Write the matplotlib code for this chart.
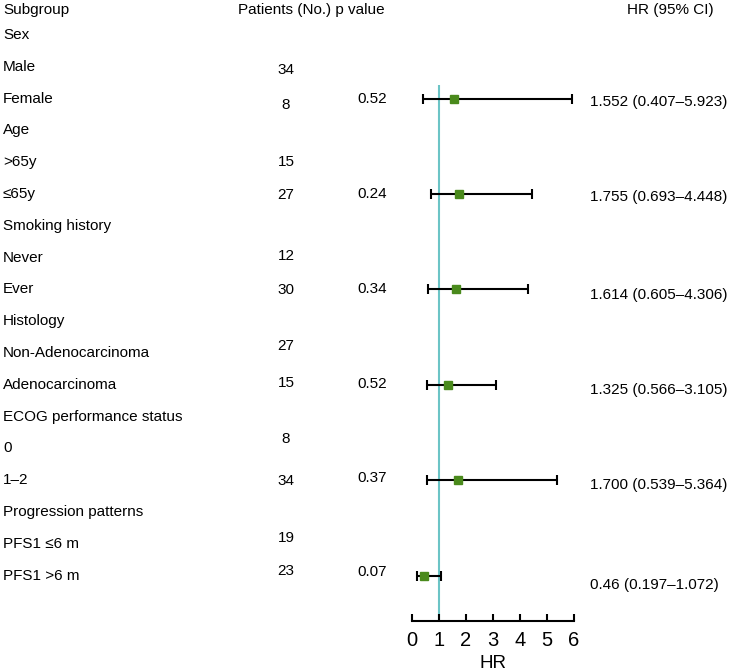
import matplotlib
matplotlib.use("Agg")
import matplotlib.pyplot as plt

plt.rcParams["font.family"] = ["Liberation Sans", "DejaVu Sans"]

# rows of the table, top to bottom
labels = ["Sex", "Male", "Female", "Age", ">65y", "≤65y", "Smoking history",
          "Never", "Ever", "Histology", "Non-Adenocarcinoma", "Adenocarcinoma",
          "ECOG performance status", "0", "1–2", "Progression patterns",
          "PFS1 ≤6 m", "PFS1 >6 m"]
patients = [None, 34, 8, None, 15, 27, None, 12, 30, None, 27, 15, None, 8, 34, None, 19, 23]
pat_shift = [0, 3, 6, 0, 0, 1, 0, -2, 1, 0, -7, -2, 0, -9, 1, 0, -6, -5]

# one estimate per subgroup pair
hr_rows = [2, 5, 8, 11, 14, 17]
p_values = ["0.52", "0.24", "0.34", "0.52", "0.37", "0.07"]
hr = [1.552, 1.755, 1.614, 1.325, 1.700, 0.46]
lo = [0.407, 0.693, 0.605, 0.566, 0.539, 0.197]
hi = [5.923, 4.448, 4.306, 3.105, 5.364, 1.072]
hr_text = ["1.552 (0.407–5.923)", "1.755 (0.693–4.448)", "1.614 (0.605–4.306)",
           "1.325 (0.566–3.105)", "1.700 (0.539–5.364)", "0.46 (0.197–1.072)"]
hr_shift = [3, 3, 6, 5, 5, 9]
p_shift = [0, 0, 0, -1, -2, -4]

W, H = 730, 671
y0, dy = 35, 31.8
def row_y(i):
    return y0 + dy * i

fig = plt.figure(figsize=(7.3, 6.71), dpi=100)
ax_t = fig.add_axes([0, 0, 1, 1])
ax_t.set_xlim(0, W)
ax_t.set_ylim(H, 0)
ax_t.axis("off")

fs = 11
ax_t.text(3, 10, "Subgroup", fontsize=fs, va="center")
ax_t.text(238, 10, "Patients (No.) p value", fontsize=fs, va="center")
ax_t.text(627, 10, "HR (95% CI)", fontsize=fs, va="center")

for i, lab in enumerate(labels):
    ax_t.text(3, row_y(i), lab, fontsize=fs, va="center")
    if patients[i] is not None:
        ax_t.text(286, row_y(i) + pat_shift[i], str(patients[i]), fontsize=fs,
                  va="center", ha="center")

for k, r in enumerate(hr_rows):
    ax_t.text(372, row_y(r) + p_shift[k], p_values[k], fontsize=fs, va="center", ha="center")
    ax_t.text(590, row_y(r) + hr_shift[k], hr_text[k], fontsize=fs, va="center")

# forest panel
x_left, x_right = 412, 574
y_axis, y_top = 621, 85
ax = fig.add_axes([x_left / W, (H - y_axis) / H, (x_right - x_left) / W, (y_axis - y_top) / H])
ax.set_xlim(0, 6)
ax.set_ylim(y_axis, y_top)
for s in ["top", "right", "left"]:
    ax.spines[s].set_visible(False)
ax.spines["bottom"].set_linewidth(1.5)
ax.set_yticks([])
ax.set_xticks(range(7))
ax.tick_params(axis="x", direction="in", length=5, width=1.5, labelsize=14.5, pad=7)
ax.set_xlabel("HR", fontsize=13.5, labelpad=4)
ax.patch.set_alpha(0)

ax.axvline(1, color="#6cc4c6", lw=1.5, zorder=1)
ys = [row_y(r) for r in hr_rows]
xerr = [[h - l for h, l in zip(hr, lo)], [u - h for h, u in zip(hr, hi)]]
ax.errorbar(hr, ys, xerr=xerr, fmt="none", ecolor="black", elinewidth=1.5,
            capsize=3.5, capthick=1.5, zorder=2)
ax.plot(hr, ys, "s", color="#4a8a1c", markersize=6, zorder=3)

fig.savefig("out.png", dpi=100)
